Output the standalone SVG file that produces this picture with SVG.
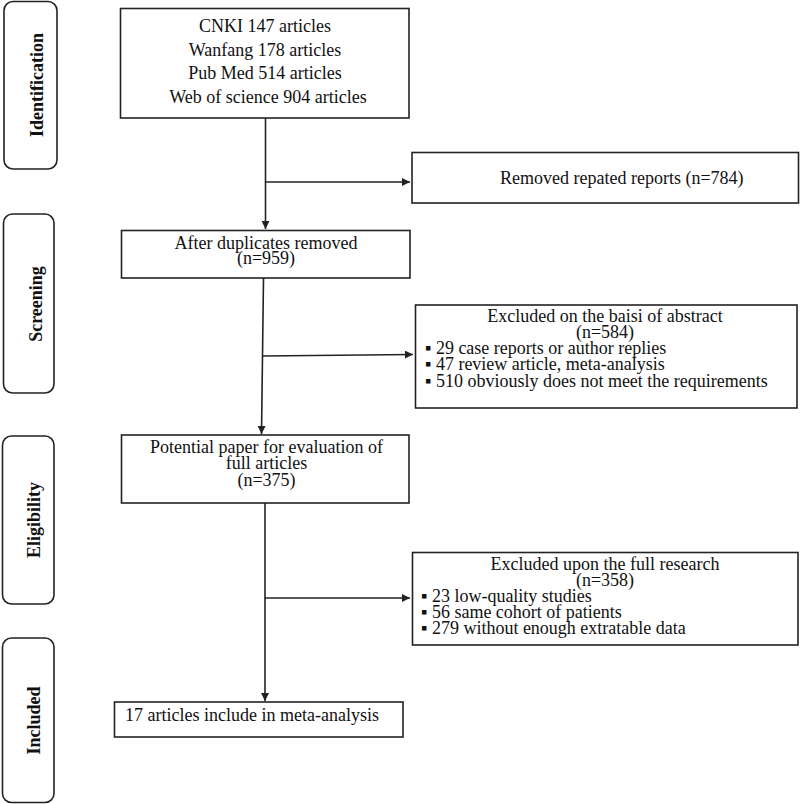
<svg xmlns="http://www.w3.org/2000/svg" width="800" height="804" viewBox="0 0 800 804">
<defs>
<style>
.box{fill:#fff;stroke:#222;stroke-width:1.6}
.side{fill:#fff;stroke:#222;stroke-width:1.6}
.t{font-family:"Liberation Serif","Times New Roman",serif;font-size:18px;fill:#111}
.c{text-anchor:middle}
.lab{font-family:"Liberation Serif","Times New Roman",serif;font-size:18px;font-weight:bold;fill:#111;text-anchor:middle}
.ln{fill:none;stroke:#222;stroke-width:1.6}
</style>
<marker id="ah" viewBox="0 0 10 10" refX="10" refY="5" markerWidth="8" markerHeight="8" markerUnits="userSpaceOnUse" orient="auto">
<path d="M0,0 L10,5 L0,10 z" fill="#222"/>
</marker>
</defs>
<rect width="800" height="804" fill="#fff"/>

<g id="side-identification">
<rect class="side" x="4" y="1.5" width="53" height="167.5" rx="9"/>
<text class="lab" transform="translate(42.5,85) rotate(-90)">Identification</text>
</g>
<g id="side-screening">
<rect class="side" x="3.5" y="214" width="50.5" height="179" rx="9"/>
<text class="lab" transform="translate(41.5,304) rotate(-90)">Screening</text>
</g>
<g id="side-eligibility">
<rect class="side" x="2.5" y="436" width="51.5" height="168" rx="9"/>
<text class="lab" transform="translate(39.5,520) rotate(-90)">Eligibility</text>
</g>
<g id="side-included">
<rect class="side" x="2.5" y="638" width="51.5" height="164.5" rx="9"/>
<text class="lab" transform="translate(39.5,720.5) rotate(-90)">Included</text>
</g>

<g id="box-sources">
<rect class="box" x="120.5" y="8.5" width="288.5" height="109.5"/>
<text class="t c" x="265" y="32">CNKI 147 articles</text>
<text class="t c" x="265" y="55.5">Wanfang 178 articles</text>
<text class="t c" x="265" y="79">Pub Med 514 articles</text>
<text class="t c" x="268" y="102.5">Web of science 904 articles</text>
</g>

<g id="box-removed">
<rect class="box" x="412" y="152.5" width="386.5" height="50.5"/>
<text class="t" x="500" y="184">Removed repated reports (n=784)</text>
</g>

<g id="box-after">
<rect class="box" x="121.5" y="230.5" width="288.5" height="47.5"/>
<text class="t c" x="266" y="249">After duplicates removed</text>
<text class="t c" x="266" y="263.5">(n=959)</text>
</g>

<g id="box-abstract">
<rect class="box" x="415.5" y="305" width="381.5" height="103"/>
<text class="t c" x="605" y="322">Excluded on the baisi of abstract</text>
<text class="t c" x="605" y="338">(n=584)</text>
<text class="t" x="425" y="354">▪ 29 case reports or author replies</text>
<text class="t" x="425" y="370">▪ 47 review article, meta-analysis</text>
<text class="t" x="425" y="387">▪ 510 obviously does not meet the requirements</text>
</g>

<g id="box-potential">
<rect class="box" x="121.5" y="435" width="287.5" height="68"/>
<text class="t c" x="266.5" y="453">Potential paper for evaluation of</text>
<text class="t c" x="266.5" y="469">full articles</text>
<text class="t c" x="266.5" y="486">(n=375)</text>
</g>

<g id="box-fullresearch">
<rect class="box" x="412.5" y="552.5" width="385.5" height="92.5"/>
<text class="t c" x="605" y="570">Excluded upon the full research</text>
<text class="t c" x="605" y="586">(n=358)</text>
<text class="t" x="421" y="602">▪ 23 low-quality studies</text>
<text class="t" x="421" y="618">▪ 56 same cohort of patients</text>
<text class="t" x="421" y="634">▪ 279 without enough extratable data</text>
</g>

<g id="box-included">
<rect class="box" x="114.5" y="702" width="288.5" height="35"/>
<text class="t" x="125" y="721">17 articles include in meta-analysis</text>
</g>

<g id="connectors">
<line class="ln" x1="265.5" y1="118" x2="265.5" y2="229" marker-end="url(#ah)"/>
<line class="ln" x1="265.5" y1="182" x2="410" y2="182" marker-end="url(#ah)"/>
<line class="ln" x1="263.5" y1="278" x2="261.5" y2="434" marker-end="url(#ah)"/>
<line class="ln" x1="263" y1="356" x2="413" y2="354.5" marker-end="url(#ah)"/>
<line class="ln" x1="265" y1="503" x2="265" y2="701" marker-end="url(#ah)"/>
<line class="ln" x1="265" y1="598" x2="410" y2="598" marker-end="url(#ah)"/>
</g>
</svg>
